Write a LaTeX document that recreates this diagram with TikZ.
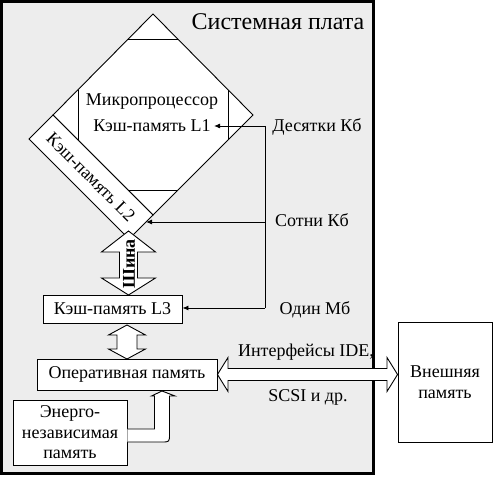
\documentclass[tikz,border=0pt]{standalone}
\usepackage{fontspec}
\setmainfont{Liberation Serif}
\usetikzlibrary{arrows.meta,calc}

\begin{document}
\begin{tikzpicture}[x=1pt, y=-1pt, line width=0.9pt, line join=miter, >={Latex[length=6pt,width=5pt]},
  every node/.style={font=\fontsize{18}{20.5}\selectfont, inner sep=0pt},
  box/.style={draw, fill=white},
  fat/.style={draw, fill=white}]
  \useasboundingbox (0,0) rectangle (493,478);
  % --- system board ---
  \draw[line width=3pt, fill=black!7] (1.5,1.5) rectangle (373.5,473.5);
  \node (board) at (278,22) {\fontsize{24}{28}\selectfont Системная плата};
  % --- processor diamond ---
  \coordinate (T) at (153,14);
  \coordinate (R) at (253,115);
  \coordinate (B) at (153,215);
  \coordinate (L) at (53,115);
  \draw[box] (T) -- (R) -- (B) -- (L) -- cycle;
  \draw ($(T)+(-25,25)$) -- ($(T)+(25,25)$);
  \draw ($(B)+(-25,-25)$) -- ($(B)+(25,-25)$);
  \draw ($(L)+(25,-25)$) -- ($(L)+(25,25)$);
  \draw ($(R)+(-25,-25)$) -- ($(R)+(-25,25)$);
  \node (cpu) at (152,102) {Микропроцессор};
  \node (l1) at (152,126) {Кэш-память L1};
  % --- L2 strip ---
  \coordinate (L') at (29,139);
  \coordinate (B') at (129,239);
  \draw[box] (L) -- (B) -- (B') -- (L') -- cycle;
  \node[rotate=-45] (l2) at ($(L)!0.5!(B')$) {Кэш-память L2};
  \coordinate (l2in) at ($(B)!0.29!(B')$);
  % --- bus ---
  \draw[fat] (128.5,231) -- (155.5,252) -- (137.5,252) -- (137.5,278) -- (155.5,278) -- (128.5,295)
    -- (101.5,278) -- (119.5,278) -- (119.5,252) -- (101.5,252) -- cycle;
  \node[rotate=90, font=\fontsize{18}{20}\selectfont\bfseries] (bus) at (129,264) {Шина};
  % --- L3 and memory ---
  \node[box, minimum width=139, minimum height=28] (l3) at (112.5,309) {Кэш-память L3};
  \draw[fat] (127,325) -- (145.5,335) -- (137,335) -- (137,349) -- (145.5,349) -- (127,359)
    -- (108.5,349) -- (117,349) -- (117,335) -- (108.5,335) -- cycle;
  \node[box, minimum width=180, minimum height=31] (ram) at (127,374.5) {Оперативная память};
  \node[box, minimum width=114, minimum height=65, align=center] (nvram) at (70,432.5)
    {Энерго-\\независимая\\память};
  \draw[fat] (nvram.east |- 0,429) -- (154.5,429) -- (154.5,396) -- (151.5,396) -- (162,391)
    -- (175,396) -- (169.5,396) -- (169.5,434) .. controls (169.5,442) .. (161.5,442)
    -- (nvram.east |- 0,442);
  % --- external memory ---
  \node[box, minimum width=94, minimum height=120, align=center] (ext) at (445,382) {Внешняя\\память};
  \draw[fat] (ram.east) -- (228,357.5) -- (228,368.5) -- (387,368.5) -- (387,357.5) -- (ext.west |- ram.east)
    -- (387,391.5) -- (387,380.5) -- (228,380.5) -- (228,391.5) -- cycle;
  \node (ide) at (306,352) {Интерфейсы IDE,};
  \node (scsi) at (308,397) {SCSI и др.};
  % --- cache sizes ---
  \node (tens) at (317,127) {Десятки Кб};
  \node (hundreds) at (312,220) {Сотни Кб};
  \node (mega) at (315,310) {Один Мб};
  \coordinate (c1) at (265,126);
  \coordinate (c2) at (265,222);
  \coordinate (c3) at (265,308);
  \draw (c1) -- (c3);
  \draw[->] (c1) -- ($(c1 -| l1.east)+(3,0)$);
  \draw[->] (c2) -- (c2 -| l2in);
  \draw[->] (c3) -- (c3 -| l3.east);
\end{tikzpicture}
\end{document}
